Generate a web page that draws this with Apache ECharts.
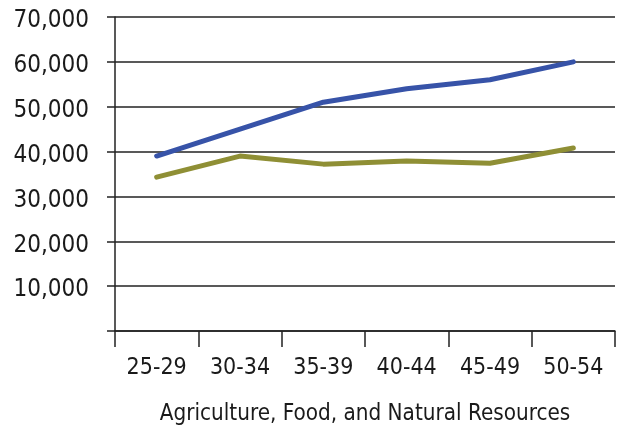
<!DOCTYPE html>
<html>
<head>
<meta charset="utf-8">
<script src="https://cdn.jsdelivr.net/npm/echarts@6/dist/echarts.min.js"></script>
<style>
html,body{margin:0;padding:0;background:#fff;overflow:hidden;}
#chart{width:619px;height:434px;}
</style>
</head>
<body>
<div id="chart"></div>
<script>
const categories = ['25-29', '30-34', '35-39', '40-44', '45-49', '50-54'];
const blueSeries = [39000, 45000, 51000, 54000, 56000, 60000];
const oliveSeries = [34300, 39000, 37200, 37900, 37400, 40800];
const axisTitle = 'Agriculture, Food, and Natural Resources';

const FONT = '"DejaVu Sans Condensed", "DejaVu Sans", sans-serif';
const chart = echarts.init(document.getElementById('chart'), null, {renderer: 'canvas', width: 619, height: 434});
chart.setOption({
  animation: false,
  backgroundColor: '#ffffff',
  grid: {left: 115, right: 4, top: 17, bottom: 103, containLabel: false},
  xAxis: {
    type: 'category',
    data: categories,
    boundaryGap: true,
    name: axisTitle,
    nameLocation: 'middle',
    nameGap: 72,
    nameTextStyle: {fontFamily: FONT, fontSize: 22.3, color: '#1a1a1a'},
    axisLine: {show: true, lineStyle: {color: '#222', width: 1.5}},
    axisTick: {show: true, length: 16, lineStyle: {color: '#222', width: 1.5}},
    axisLabel: {fontFamily: FONT, fontSize: 23, color: '#1a1a1a', margin: 26}
  },
  yAxis: {
    type: 'value',
    min: 0,
    max: 70000,
    interval: 10000,
    axisLine: {show: true, lineStyle: {color: '#222', width: 1.5}},
    axisTick: {show: true, length: 8, lineStyle: {color: '#222', width: 1.5}},
    splitLine: {show: true, lineStyle: {color: '#222', width: 1.5}},
    axisLabel: {
      fontFamily: FONT, fontSize: 24, color: '#1a1a1a', margin: 26,
      formatter: v => v === 0 ? '' : '{a|' + v.toLocaleString('en-US') + '}',
      rich: {a: {fontFamily: FONT, fontSize: 24, color: '#1a1a1a', padding: [8, 0, 0, 0]}}
    }
  },
  series: [
    {
      type: 'line', data: blueSeries, symbol: 'none',
      lineStyle: {color: '#3753a8', width: 5, cap: 'round', join: 'round'}
    },
    {
      type: 'line', data: oliveSeries, symbol: 'none',
      lineStyle: {color: '#8f8f35', width: 5, cap: 'round', join: 'round'}
    }
  ]
});
</script>
</body>
</html>
